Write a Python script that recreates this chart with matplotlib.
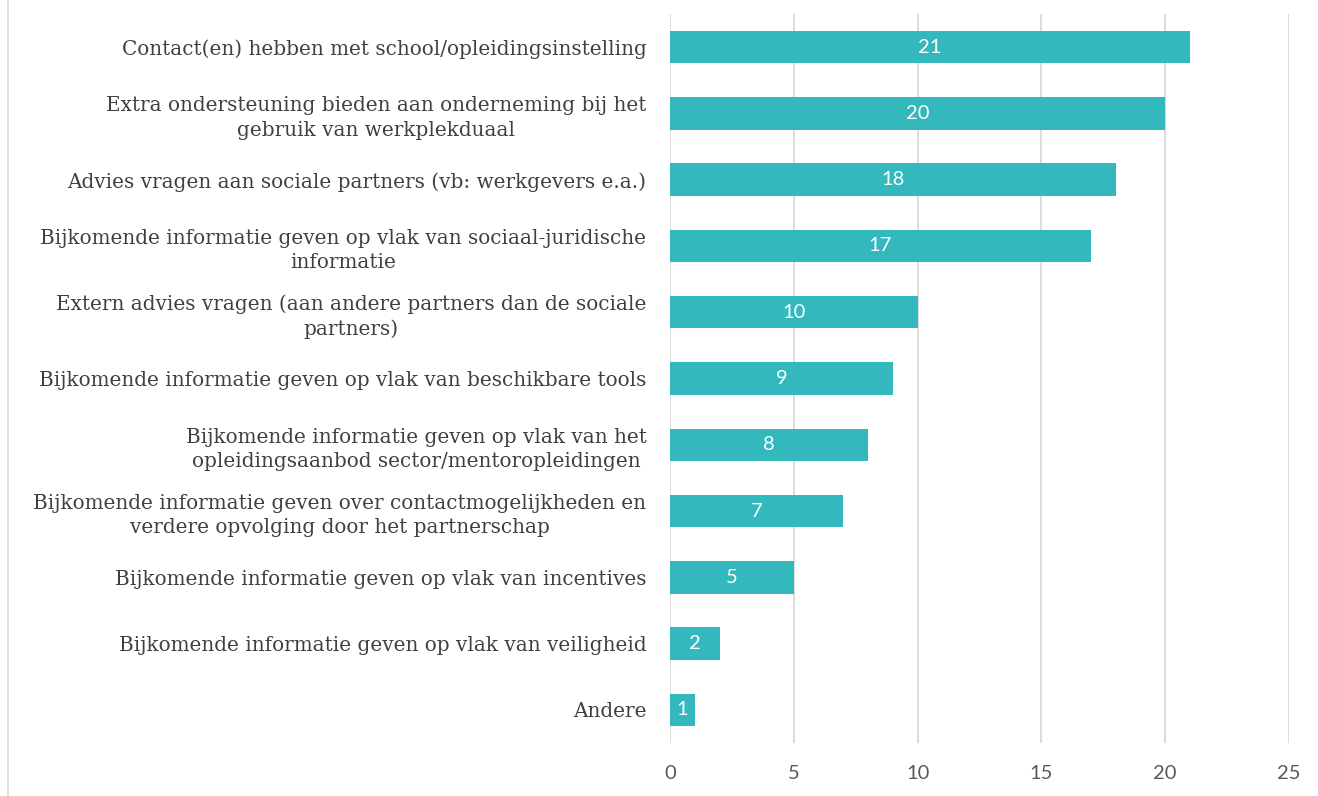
import matplotlib
matplotlib.use("Agg")
import matplotlib.pyplot as plt
from matplotlib.lines import Line2D

categories = [
    "Contact(en) hebben met school/opleidingsinstelling",
    "Extra ondersteuning bieden aan onderneming bij het\ngebruik van werkplekduaal",
    "Advies vragen aan sociale partners (vb: werkgevers e.a.)",
    "Bijkomende informatie geven op vlak van sociaal-juridische\ninformatie",
    "Extern advies vragen (aan andere partners dan de sociale\npartners)",
    "Bijkomende informatie geven op vlak van beschikbare tools",
    "Bijkomende informatie geven op vlak van het\nopleidingsaanbod sector/mentoropleidingen",
    "Bijkomende informatie geven over contactmogelijkheden en\nverdere opvolging door het partnerschap",
    "Bijkomende informatie geven op vlak van incentives",
    "Bijkomende informatie geven op vlak van veiligheid",
    "Andere",
]
values = [21, 20, 18, 17, 10, 9, 8, 7, 5, 2, 1]
xticks = [0, 5, 10, 15, 20, 25]

BAR = "#33B8BD"
TXT = "#404040"
GRID = "#D9D9D9"

plt.rcParams['font.family'] = ['Lato', 'DejaVu Sans']

fig = plt.figure(figsize=(13.18, 7.96), dpi=100)
ax = fig.add_axes([670/1318, 1-743/796, (1289-670)/1318, (743-14)/796])

y = list(range(len(categories)))
ax.barh(y, values, height=0.49, color=BAR, zorder=3)
for yi, v in zip(y, values):
    ax.text(v/2, yi, str(v), ha='center', va='center', color='white',
            fontsize=14.5, zorder=4)

ax.set_ylim(len(categories)-0.5, -0.5)
ax.set_xlim(0, 25)
ax.set_xticks(xticks)
ax.set_xticklabels([str(t) for t in xticks], fontsize=14.5, color='#595959')
ax.set_yticks(y)
ax.set_yticklabels(categories, fontsize=14.4, color=TXT, ha='right',
                   multialignment='center', family=['DejaVu Serif'], linespacing=1.35)
ax.tick_params(axis='both', length=0)
ax.tick_params(axis='x', pad=16)
ax.tick_params(axis='y', pad=17)
ax.grid(axis='x', color=GRID, linewidth=1.3, zorder=0)
for s in ax.spines.values():
    s.set_visible(False)

fig.add_artist(Line2D([8/1318, 8/1318], [0, 1], color=GRID, linewidth=1.2, transform=fig.transFigure))

fig.savefig("out.png", dpi=100)
